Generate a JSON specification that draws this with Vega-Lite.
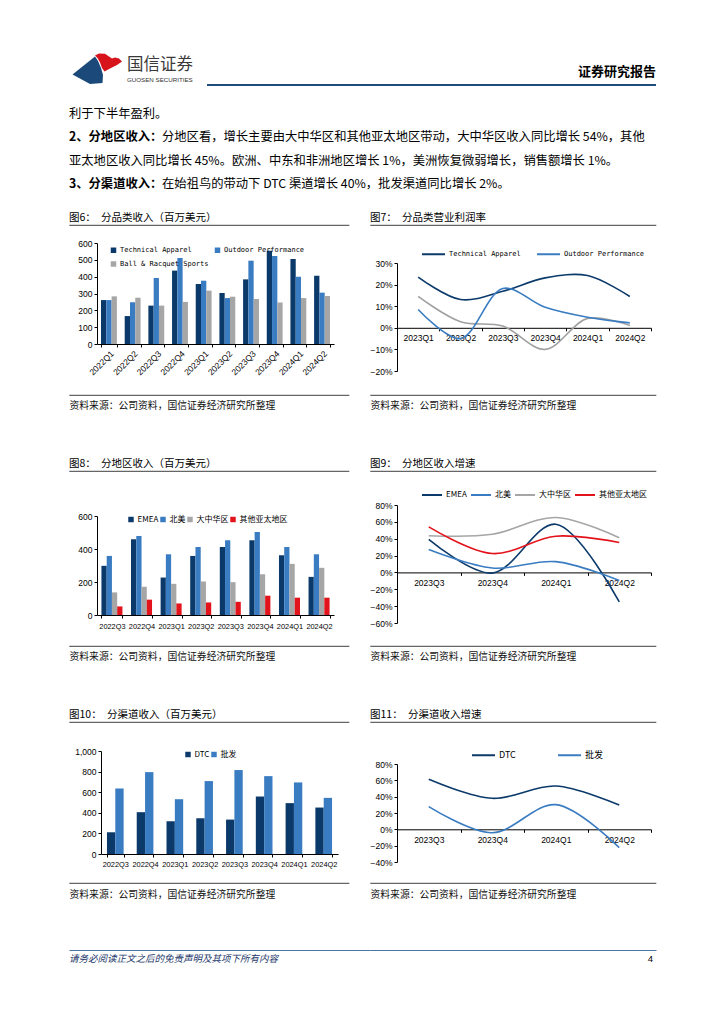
{
  "$schema": "https://vega.github.io/schema/vega-lite/v6.json",
  "padding": {"left": 68, "top": 0, "right": 0, "bottom": 0},
  "background": "white",
  "columns": 2,
  "spacing": 0,
  "bounds": "flush",
  "align": "each",
  "resolve": {"scale": {"color": "independent", "xOffset": "independent", "shape": "independent"}, "legend": {"color": "independent", "shape": "independent"}},
  "config": {
    "view": {"stroke": null},
    "font": "Noto Sans CJK SC",
    "title": {"anchor": "start", "frame": "group", "fontSize": 10.5, "fontWeight": "normal", "color": "#000", "offset": 2, "font": "Noto Sans CJK SC"},
    "axis": {"grid": false, "domainColor": "#000", "domainWidth": 1, "tickColor": "#000", "tickSize": 3, "labelColor": "#000", "labelFont": "Liberation Sans", "labelFontSize": 8.5, "labelPadding": 2, "titleFont": "Noto Sans CJK SC", "titleFontSize": 9.8, "titleFontWeight": "normal", "titleColor": "#111"},
    "legend": {"padding": 0, "labelFont": "Noto Sans CJK SC", "labelFontSize": 9, "labelColor": "#000"}
  },
  "concat": [
    {
      "width": 301, "height": 84,
      "view": {"stroke": "#1D4D7D", "strokeWidth": 2, "strokeDash": [0, 385, 163, 1000]},
      "layer": [
        {
          "data": {"values": [{"part": "blue"}, {"part": "red"}]},
          "mark": {"type": "point", "filled": true, "opacity": 1, "size": 4, "strokeWidth": 0},
          "encoding": {
            "shape": {"field": "part", "type": "nominal", "scale": {"domain": ["blue", "red"], "range": ["M-124.5,13.5L-121.5,18L-118.5,25L-116.5,32L-117,40L-129.5,41L-147,31.5Z", "M-124.5,12.5L-120.5,10.5L-114.5,10.8L-110.5,13.5L-107.5,15.5L-104.5,14.5L-100.5,15.5L-97.5,18.5L-102.5,22L-109.5,25.5L-115,28.5L-117.5,25L-119.5,19.5L-122,15Z"]}, "legend": null},
            "color": {"field": "part", "type": "nominal", "scale": {"domain": ["blue", "red"], "range": ["#1B4A7A", "#D7141C"]}, "legend": null}
          }
        },
        {
          "data": {"values": [{"brand": "国信证券"}]},
          "mark": {"type": "text", "fontSize": 16.5, "align": "left", "baseline": "middle", "color": "#3a3a3a"},
          "encoding": {
            "text": {"field": "brand"},
            "x": {"field": "brand", "type": "nominal", "scale": {"type": "point", "range": [58, 58], "padding": 0}, "axis": null},
            "y": {"field": "brand", "type": "nominal", "scale": {"type": "point", "range": [64, 64], "padding": 0}, "axis": null}
          }
        },
        {
          "data": {"values": [{"en": "GUOSEN SECURITIES"}]},
          "mark": {"type": "text", "fontSize": 6.2, "font": "Liberation Sans", "align": "left", "baseline": "middle", "color": "#333"},
          "encoding": {
            "text": {"field": "en"},
            "x": {"field": "en", "type": "nominal", "scale": {"type": "point", "range": [58, 58], "padding": 0}, "axis": null},
            "y": {"field": "en", "type": "nominal", "scale": {"type": "point", "range": [78.5, 78.5], "padding": 0}, "axis": null}
          }
        }
      ],
      "resolve": {"scale": {"x": "independent", "y": "independent"}}
    },
    {
      "width": 286, "height": 84,
      "view": {"stroke": "#1D4D7D", "strokeWidth": 2, "strokeDash": [0, 370, 286, 84]},
      "data": {"values": [{"label": "证券研究报告"}]},
      "mark": {"type": "text", "fontSize": 13, "fontWeight": "bold", "align": "right", "baseline": "middle", "color": "#000"},
      "encoding": {
        "text": {"field": "label"},
        "x": {"field": "label", "type": "nominal", "scale": {"type": "point", "range": [286, 286], "padding": 0}, "axis": null},
        "y": {"field": "label", "type": "nominal", "scale": {"type": "point", "range": [71, 71], "padding": 0}, "axis": null}
      }
    },
    {
      "width": 301, "height": 140,
      "data": {"values": [
        {"line": "L1", "col": "a", "w": "n", "text": "利于下半年盈利。"},
        {"line": "L2", "col": "a", "w": "b", "text": "2、分地区收入："},
        {"line": "L2", "col": "b", "w": "n", "text": "分地区看，增长主要由大中华区和其他亚太地区带动，大中华区收入同比增长 54%，其他"},
        {"line": "L3", "col": "a", "w": "n", "text": "亚太地区收入同比增长 45%。欧洲、中东和非洲地区增长 1%，美洲恢复微弱增长，销售额增长 1%。"},
        {"line": "L4", "col": "a", "w": "b", "text": "3、分渠道收入："},
        {"line": "L4", "col": "b", "w": "n", "text": "在始祖鸟的带动下 DTC 渠道增长 40%，批发渠道同比增长 2%。"}
      ]},
      "encoding": {
        "x": {"field": "col", "type": "nominal", "scale": {"type": "point", "domain": ["a", "b"], "range": [0, 93], "padding": 0}, "axis": null},
        "y": {"field": "line", "type": "nominal", "scale": {"type": "point", "domain": ["L1", "L2", "L3", "L4"], "range": [29, 99], "padding": 0}, "axis": null},
        "text": {"field": "text"}
      },
      "layer": [
        {"transform": [{"filter": "datum.w == 'n'"}], "mark": {"type": "text", "align": "left", "baseline": "middle", "fontSize": 12.3, "color": "#000"}},
        {"transform": [{"filter": "datum.w == 'b'"}], "mark": {"type": "text", "align": "left", "baseline": "middle", "fontSize": 12.3, "fontWeight": "bold", "color": "#000"}}
      ]
    },
    {"width": 286, "height": 140, "data": {"values": [{"t": ""}]}, "mark": {"type": "text"}, "encoding": {"text": {"field": "t"}}},
    {
      "width": 301, "height": 170,
      "view": {"stroke": "#666", "strokeWidth": 1.2, "strokeDash": [280, 212, 280, 170]},
      "title": {"text": "图6：\u2002分品类收入（百万美元）"},
      "data": {"values": [
        {"q": "2022Q1", "s": "Technical Apparel", "v": 261}, {"q": "2022Q1", "s": "Outdoor Performance", "v": 261}, {"q": "2022Q1", "s": "Ball & Racquet Sports", "v": 283},
        {"q": "2022Q2", "s": "Technical Apparel", "v": 166}, {"q": "2022Q2", "s": "Outdoor Performance", "v": 248}, {"q": "2022Q2", "s": "Ball & Racquet Sports", "v": 275},
        {"q": "2022Q3", "s": "Technical Apparel", "v": 228}, {"q": "2022Q3", "s": "Outdoor Performance", "v": 392}, {"q": "2022Q3", "s": "Ball & Racquet Sports", "v": 228},
        {"q": "2022Q4", "s": "Technical Apparel", "v": 436}, {"q": "2022Q4", "s": "Outdoor Performance", "v": 511}, {"q": "2022Q4", "s": "Ball & Racquet Sports", "v": 250},
        {"q": "2023Q1", "s": "Technical Apparel", "v": 356}, {"q": "2023Q1", "s": "Outdoor Performance", "v": 376}, {"q": "2023Q1", "s": "Ball & Racquet Sports", "v": 317},
        {"q": "2023Q2", "s": "Technical Apparel", "v": 303}, {"q": "2023Q2", "s": "Outdoor Performance", "v": 273}, {"q": "2023Q2", "s": "Ball & Racquet Sports", "v": 281},
        {"q": "2023Q3", "s": "Technical Apparel", "v": 384}, {"q": "2023Q3", "s": "Outdoor Performance", "v": 495}, {"q": "2023Q3", "s": "Ball & Racquet Sports", "v": 267},
        {"q": "2023Q4", "s": "Technical Apparel", "v": 554}, {"q": "2023Q4", "s": "Outdoor Performance", "v": 523}, {"q": "2023Q4", "s": "Ball & Racquet Sports", "v": 246},
        {"q": "2024Q1", "s": "Technical Apparel", "v": 505}, {"q": "2024Q1", "s": "Outdoor Performance", "v": 400}, {"q": "2024Q1", "s": "Ball & Racquet Sports", "v": 273},
        {"q": "2024Q2", "s": "Technical Apparel", "v": 406}, {"q": "2024Q2", "s": "Outdoor Performance", "v": 305}, {"q": "2024Q2", "s": "Ball & Racquet Sports", "v": 285}
      ]},
      "mark": {"type": "bar"},
      "encoding": {
        "x": {"field": "q", "type": "nominal", "sort": null, "scale": {"range": [28, 265], "paddingInner": 0.33, "paddingOuter": 0.17},
          "axis": {"orient": "bottom", "offset": -51, "labelAngle": -45, "tickBand": "extent", "labelPadding": 2, "title": "资料来源：公司资料，国信证券经济研究所整理", "titleX": 0, "titleY": 61, "titleAlign": "left", "titleBaseline": "middle"}},
        "xOffset": {"field": "s", "type": "nominal", "sort": ["Technical Apparel", "Outdoor Performance", "Ball & Racquet Sports"]},
        "y": {"field": "v", "type": "quantitative", "scale": {"domain": [0, 600], "range": [119, 18], "nice": false}, "axis": {"offset": -28, "values": [0, 100, 200, 300, 400, 500, 600], "format": "d", "title": null}},
        "color": {"field": "s", "type": "nominal", "scale": {"domain": ["Technical Apparel", "Outdoor Performance", "Ball & Racquet Sports"], "range": ["#0B3A6A", "#3A7CC1", "#A6A6A6"]},
          "legend": {"orient": "none", "legendX": 41, "legendY": 21.5, "direction": "horizontal", "columns": 2, "title": null, "symbolType": "square", "symbolSize": 30, "labelFont": "DejaVu Sans Mono", "labelFontSize": 7, "columnPadding": 5, "rowPadding": 6, "labelOffset": 3}}
      }
    },
    {
      "width": 286, "height": 170,
      "view": {"stroke": "#666", "strokeWidth": 1.2, "strokeDash": [286, 170]},
      "title": {"text": "图7：\u2002分品类营业利润率"},
      "data": {"values": [
        {"q": "2023Q1", "s": "Technical Apparel", "v": 0.235}, {"q": "2023Q2", "s": "Technical Apparel", "v": 0.131}, {"q": "2023Q3", "s": "Technical Apparel", "v": 0.169}, {"q": "2023Q4", "s": "Technical Apparel", "v": 0.231}, {"q": "2024Q1", "s": "Technical Apparel", "v": 0.242}, {"q": "2024Q2", "s": "Technical Apparel", "v": 0.145},
        {"q": "2023Q1", "s": "Outdoor Performance", "v": 0.085}, {"q": "2023Q2", "s": "Outdoor Performance", "v": -0.05}, {"q": "2023Q3", "s": "Outdoor Performance", "v": 0.182}, {"q": "2023Q4", "s": "Outdoor Performance", "v": 0.095}, {"q": "2024Q1", "s": "Outdoor Performance", "v": 0.049}, {"q": "2024Q2", "s": "Outdoor Performance", "v": 0.023},
        {"q": "2023Q1", "s": "Ball & Racquet Sports", "v": 0.145}, {"q": "2023Q2", "s": "Ball & Racquet Sports", "v": 0.028}, {"q": "2023Q3", "s": "Ball & Racquet Sports", "v": 0.008}, {"q": "2023Q4", "s": "Ball & Racquet Sports", "v": -0.1}, {"q": "2024Q1", "s": "Ball & Racquet Sports", "v": 0.043}, {"q": "2024Q2", "s": "Ball & Racquet Sports", "v": 0.011}
      ]},
      "encoding": {
        "x": {"field": "q", "type": "nominal", "sort": null, "scale": {"type": "band", "range": [27, 281], "paddingInner": 0, "paddingOuter": 0},
          "axis": {"orient": "bottom", "offset": -67.2, "labelAngle": 0, "tickBand": "extent", "labelPadding": 3, "title": "资料来源：公司资料，国信证券经济研究所整理", "titleX": 0, "titleY": 77.2, "titleAlign": "left", "titleBaseline": "middle"}},
        "y": {"field": "v", "type": "quantitative", "scale": {"domain": [-0.2, 0.3], "range": [146, 38], "nice": false, "zero": false}, "axis": {"offset": -27, "values": [-0.2, -0.1, 0, 0.1, 0.2, 0.3], "format": ".0%", "title": null}}
      },
      "layer": [
        {"transform": [{"filter": "datum.s == 'Ball & Racquet Sports'"}], "mark": {"type": "line", "interpolate": "catmull-rom", "color": "#A0A0A0", "strokeWidth": 1.6}},
        {"transform": [{"filter": "datum.s != 'Ball & Racquet Sports'"}], "mark": {"type": "line", "interpolate": "catmull-rom", "strokeWidth": 1.6},
          "encoding": {"color": {"field": "s", "type": "nominal", "scale": {"domain": ["Technical Apparel", "Outdoor Performance"], "range": ["#0B3A6A", "#3A7CC1"]},
            "legend": {"orient": "none", "legendX": 51, "legendY": 16.5, "direction": "horizontal", "title": null, "symbolType": "stroke", "symbolSize": 529, "symbolStrokeWidth": 2, "labelFont": "DejaVu Sans Mono", "labelFontSize": 7, "columnPadding": 12, "labelOffset": 3}}}}
      ]
    },
    {"width": 301, "height": 76, "data": {"values": [{"t": ""}]}, "mark": {"type": "text"}, "encoding": {"text": {"field": "t"}}},
    {"width": 286, "height": 76, "data": {"values": [{"t": ""}]}, "mark": {"type": "text"}, "encoding": {"text": {"field": "t"}}},
    {
      "width": 301, "height": 175,
      "view": {"stroke": "#666", "strokeWidth": 1.2, "strokeDash": [280, 217, 280, 175]},
      "title": {"text": "图8：\u2002分地区收入（百万美元）"},
      "data": {"values": [
        {"q": "2022Q3", "s": "EMEA", "v": 298}, {"q": "2022Q3", "s": "北美", "v": 358}, {"q": "2022Q3", "s": "大中华区", "v": 137}, {"q": "2022Q3", "s": "其他亚太地区", "v": 52},
        {"q": "2022Q4", "s": "EMEA", "v": 459}, {"q": "2022Q4", "s": "北美", "v": 479}, {"q": "2022Q4", "s": "大中华区", "v": 171}, {"q": "2022Q4", "s": "其他亚太地区", "v": 93},
        {"q": "2023Q1", "s": "EMEA", "v": 227}, {"q": "2023Q1", "s": "北美", "v": 368}, {"q": "2023Q1", "s": "大中华区", "v": 189}, {"q": "2023Q1", "s": "其他亚太地区", "v": 70},
        {"q": "2023Q2", "s": "EMEA", "v": 358}, {"q": "2023Q2", "s": "北美", "v": 412}, {"q": "2023Q2", "s": "大中华区", "v": 203}, {"q": "2023Q2", "s": "其他亚太地区", "v": 76},
        {"q": "2023Q3", "s": "EMEA", "v": 412}, {"q": "2023Q3", "s": "北美", "v": 453}, {"q": "2023Q3", "s": "大中华区", "v": 199}, {"q": "2023Q3", "s": "其他亚太地区", "v": 80},
        {"q": "2023Q4", "s": "EMEA", "v": 453}, {"q": "2023Q4", "s": "北美", "v": 503}, {"q": "2023Q4", "s": "大中华区", "v": 247}, {"q": "2023Q4", "s": "其他亚太地区", "v": 117},
        {"q": "2024Q1", "s": "EMEA", "v": 362}, {"q": "2024Q1", "s": "北美", "v": 412}, {"q": "2024Q1", "s": "大中华区", "v": 310}, {"q": "2024Q1", "s": "其他亚太地区", "v": 105},
        {"q": "2024Q2", "s": "EMEA", "v": 231}, {"q": "2024Q2", "s": "北美", "v": 368}, {"q": "2024Q2", "s": "大中华区", "v": 286}, {"q": "2024Q2", "s": "其他亚太地区", "v": 105}
      ]},
      "mark": {"type": "bar"},
      "encoding": {
        "x": {"field": "q", "type": "nominal", "sort": null, "scale": {"range": [28, 265], "paddingInner": 0.29, "paddingOuter": 0.15},
          "axis": {"orient": "bottom", "offset": -31, "labelAngle": 0, "tickBand": "extent", "labelPadding": 4, "labelFontSize": 7.4, "title": "资料来源：公司资料，国信证券经济研究所整理", "titleX": 0, "titleY": 41, "titleAlign": "left", "titleBaseline": "middle"}},
        "xOffset": {"field": "s", "type": "nominal", "sort": ["EMEA", "北美", "大中华区", "其他亚太地区"]},
        "y": {"field": "v", "type": "quantitative", "scale": {"domain": [0, 600], "range": [144, 45], "nice": false}, "axis": {"offset": -28, "values": [0, 200, 400, 600], "format": "d", "title": null}},
        "color": {"field": "s", "type": "nominal", "scale": {"domain": ["EMEA", "北美", "大中华区", "其他亚太地区"], "range": ["#0B3A6A", "#3A7CC1", "#A6A6A6", "#E3131B"]},
          "legend": {"orient": "none", "legendX": 58, "legendY": 44.5, "direction": "horizontal", "title": null, "symbolType": "square", "symbolSize": 30, "labelFontSize": 8, "columnPadding": -2, "labelOffset": 2.5}}
      }
    },
    {
      "width": 286, "height": 175,
      "view": {"stroke": "#666", "strokeWidth": 1.2, "strokeDash": [286, 175]},
      "title": {"text": "图9：\u2002分地区收入增速"},
      "data": {"values": [
        {"q": "2023Q3", "s": "EMEA", "v": 0.392}, {"q": "2023Q4", "s": "EMEA", "v": -0.008}, {"q": "2024Q1", "s": "EMEA", "v": 0.572}, {"q": "2024Q2", "s": "EMEA", "v": -0.348},
        {"q": "2023Q3", "s": "北美", "v": 0.272}, {"q": "2023Q4", "s": "北美", "v": 0.052}, {"q": "2024Q1", "s": "北美", "v": 0.128}, {"q": "2024Q2", "s": "北美", "v": -0.096},
        {"q": "2023Q3", "s": "大中华区", "v": 0.436}, {"q": "2023Q4", "s": "大中华区", "v": 0.452}, {"q": "2024Q1", "s": "大中华区", "v": 0.652}, {"q": "2024Q2", "s": "大中华区", "v": 0.412},
        {"q": "2023Q3", "s": "其他亚太地区", "v": 0.54}, {"q": "2023Q4", "s": "其他亚太地区", "v": 0.224}, {"q": "2024Q1", "s": "其他亚太地区", "v": 0.43}, {"q": "2024Q2", "s": "其他亚太地区", "v": 0.356}
      ]},
      "mark": {"type": "line", "interpolate": "catmull-rom", "strokeWidth": 1.6},
      "encoding": {
        "x": {"field": "q", "type": "nominal", "sort": null, "scale": {"type": "band", "range": [27, 281], "paddingInner": 0, "paddingOuter": 0},
          "axis": {"orient": "bottom", "offset": -73.6, "labelAngle": 0, "tickBand": "extent", "labelPadding": 3.5, "title": "资料来源：公司资料，国信证券经济研究所整理", "titleX": 0, "titleY": 83.6, "titleAlign": "left", "titleBaseline": "middle"}},
        "y": {"field": "v", "type": "quantitative", "scale": {"domain": [-0.6, 0.8], "range": [152, 34], "nice": false, "zero": false}, "axis": {"offset": -27, "values": [-0.6, -0.4, -0.2, 0, 0.2, 0.4, 0.6, 0.8], "format": ".0%", "title": null}},
        "color": {"field": "s", "type": "nominal", "scale": {"domain": ["EMEA", "北美", "大中华区", "其他亚太地区"], "range": ["#0B3A6A", "#3A7CC1", "#A6A6A6", "#E3131B"]},
          "legend": {"orient": "none", "legendX": 51, "legendY": 13, "direction": "horizontal", "title": null, "symbolType": "stroke", "symbolSize": 400, "symbolStrokeWidth": 2, "labelFontSize": 8, "columnPadding": 0, "labelOffset": 3}}
      }
    },
    {"width": 301, "height": 76, "data": {"values": [{"t": ""}]}, "mark": {"type": "text"}, "encoding": {"text": {"field": "t"}}},
    {"width": 286, "height": 76, "data": {"values": [{"t": ""}]}, "mark": {"type": "text"}, "encoding": {"text": {"field": "t"}}},
    {
      "width": 301, "height": 161,
      "view": {"stroke": "#666", "strokeWidth": 1.2, "strokeDash": [280, 203, 280, 161]},
      "title": {"text": "图10：\u2002分渠道收入（百万美元）"},
      "data": {"values": [
        {"q": "2022Q3", "s": "DTC", "v": 211}, {"q": "2022Q3", "s": "批发", "v": 636},
        {"q": "2022Q4", "s": "DTC", "v": 406}, {"q": "2022Q4", "s": "批发", "v": 795},
        {"q": "2023Q1", "s": "DTC", "v": 318}, {"q": "2023Q1", "s": "批发", "v": 532},
        {"q": "2023Q2", "s": "DTC", "v": 347}, {"q": "2023Q2", "s": "批发", "v": 708},
        {"q": "2023Q3", "s": "DTC", "v": 334}, {"q": "2023Q3", "s": "批发", "v": 815},
        {"q": "2023Q4", "s": "DTC", "v": 558}, {"q": "2023Q4", "s": "批发", "v": 756},
        {"q": "2024Q1", "s": "DTC", "v": 494}, {"q": "2024Q1", "s": "批发", "v": 695},
        {"q": "2024Q2", "s": "DTC", "v": 451}, {"q": "2024Q2", "s": "批发", "v": 545}
      ]},
      "mark": {"type": "bar"},
      "encoding": {
        "x": {"field": "q", "type": "nominal", "sort": null, "scale": {"range": [32, 269], "paddingInner": 0.44, "paddingOuter": 0.2},
          "axis": {"orient": "bottom", "offset": -29, "labelAngle": 0, "tickBand": "extent", "labelPadding": 3, "labelFontSize": 7.4, "title": "资料来源：公司资料，国信证券经济研究所整理", "titleX": 0, "titleY": 40, "titleAlign": "left", "titleBaseline": "middle"}},
        "xOffset": {"field": "s", "type": "nominal", "sort": ["DTC", "批发"]},
        "y": {"field": "v", "type": "quantitative", "scale": {"domain": [0, 1000], "range": [132, 29], "nice": false}, "axis": {"offset": -32, "values": [0, 200, 400, 600, 800, 1000], "format": ",.0f", "title": null}},
        "color": {"field": "s", "type": "nominal", "scale": {"domain": ["DTC", "批发"], "range": ["#0B3A6A", "#3A7CC1"]},
          "legend": {"orient": "none", "legendX": 115, "legendY": 28.5, "direction": "horizontal", "title": null, "symbolType": "square", "symbolSize": 30, "labelFontSize": 8, "columnPadding": -5, "labelOffset": 2.5}}
      }
    },
    {
      "width": 286, "height": 161,
      "view": {"stroke": "#666", "strokeWidth": 1.2, "strokeDash": [286, 161]},
      "title": {"text": "图11：\u2002分渠道收入增速"},
      "data": {"values": [
        {"q": "2023Q3", "s": "DTC", "v": 0.612}, {"q": "2023Q4", "s": "DTC", "v": 0.38}, {"q": "2024Q1", "s": "DTC", "v": 0.53}, {"q": "2024Q2", "s": "DTC", "v": 0.298},
        {"q": "2023Q3", "s": "批发", "v": 0.278}, {"q": "2023Q4", "s": "批发", "v": -0.041}, {"q": "2024Q1", "s": "批发", "v": 0.302}, {"q": "2024Q2", "s": "批发", "v": -0.224}
      ]},
      "mark": {"type": "line", "interpolate": "catmull-rom", "strokeWidth": 1.6},
      "encoding": {
        "x": {"field": "q", "type": "nominal", "sort": null, "scale": {"type": "band", "range": [27, 281], "paddingInner": 0, "paddingOuter": 0},
          "axis": {"orient": "bottom", "offset": -53.7, "labelAngle": 0, "tickBand": "extent", "labelPadding": 3.5, "title": "资料来源：公司资料，国信证券经济研究所整理", "titleX": 0, "titleY": 64.7, "titleAlign": "left", "titleBaseline": "middle"}},
        "y": {"field": "v", "type": "quantitative", "scale": {"domain": [-0.4, 0.8], "range": [140, 42], "nice": false, "zero": false}, "axis": {"offset": -27, "values": [-0.4, -0.2, 0, 0.2, 0.4, 0.6, 0.8], "format": ".0%", "title": null}},
        "color": {"field": "s", "type": "nominal", "scale": {"domain": ["DTC", "批发"], "range": ["#0B3A6A", "#3A7CC1"]},
          "legend": {"orient": "none", "legendX": 101, "legendY": 20.5, "direction": "horizontal", "title": null, "symbolType": "stroke", "symbolSize": 529, "symbolStrokeWidth": 2, "labelFontSize": 9, "columnPadding": 38, "labelOffset": 3}}
      }
    },
    {"width": 301, "height": 67, "data": {"values": [{"t": ""}]}, "mark": {"type": "text"}, "encoding": {"text": {"field": "t"}}},
    {"width": 286, "height": 67, "data": {"values": [{"t": ""}]}, "mark": {"type": "text"}, "encoding": {"text": {"field": "t"}}},
    {
      "width": 301, "height": 20,
      "view": {"stroke": "#4A74A8", "strokeWidth": 1, "strokeDash": [301, 1000]},
      "data": {"values": [{"note": "请务必阅读正文之后的免责声明及其项下所有内容"}]},
      "mark": {"type": "text", "fontSize": 9.5, "fontStyle": "italic", "align": "left", "baseline": "middle", "color": "#25386B"},
      "encoding": {
        "text": {"field": "note"},
        "x": {"field": "note", "type": "nominal", "scale": {"type": "point", "range": [0, 0], "padding": 0}, "axis": null},
        "y": {"field": "note", "type": "nominal", "scale": {"type": "point", "range": [9, 9], "padding": 0}, "axis": null}
      }
    },
    {
      "width": 286, "height": 20,
      "view": {"stroke": "#4A74A8", "strokeWidth": 1, "strokeDash": [286, 1000]},
      "data": {"values": [{"page": "4"}]},
      "mark": {"type": "text", "fontSize": 9.5, "font": "Liberation Sans", "align": "right", "baseline": "middle", "color": "#000"},
      "encoding": {
        "text": {"field": "page"},
        "x": {"field": "page", "type": "nominal", "scale": {"type": "point", "range": [283, 283], "padding": 0}, "axis": null},
        "y": {"field": "page", "type": "nominal", "scale": {"type": "point", "range": [9, 9], "padding": 0}, "axis": null}
      }
    }
  ]
}
